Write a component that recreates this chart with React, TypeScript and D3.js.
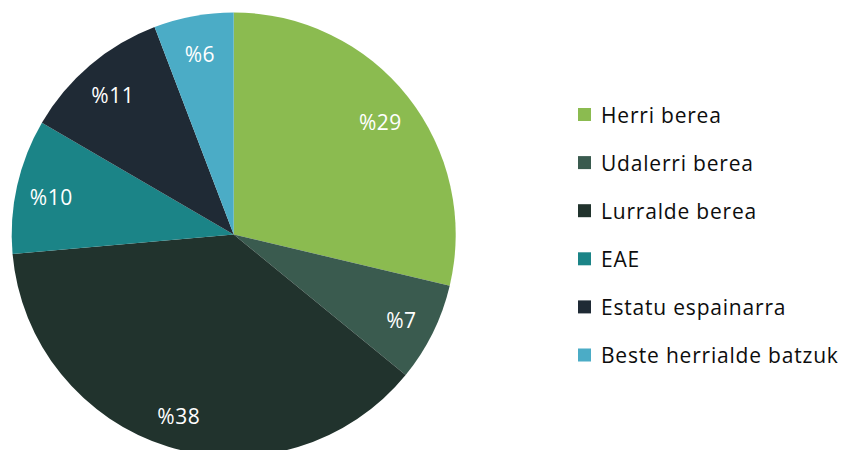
import React from "react";
import * as d3 from "d3";

const categories = [
  "Herri berea",
  "Udalerri berea",
  "Lurralde berea",
  "EAE",
  "Estatu espainarra",
  "Beste herrialde batzuk",
];
const shares = [28.7, 7.2, 37.7, 9.8, 10.8, 5.8];
const sliceLabels = ["%29", "%7", "%38", "%10", "%11", "%6"];
const colors = ["#8bbb50", "#3a5b4f", "#21332d", "#1b8487", "#1f2a35", "#4bacc6"];

const W = 843;
const H = 450;
const cx = 233.7;
const cy = 234.5;
const radius = 222;
const font = "'Open Sans', 'DejaVu Sans', sans-serif";

const App: React.FC = () => {
  const pie = d3
    .pie<number>()
    .sort(null)
    .value((d) => d);
  const arcs = pie(shares);
  const arc = d3.arc<d3.PieArcDatum<number>>().innerRadius(0).outerRadius(radius);
  const labelArc = d3
    .arc<d3.PieArcDatum<number>>()
    .innerRadius(187)
    .outerRadius(187);

  const legendY = d3
    .scalePoint<string>()
    .domain(categories)
    .range([114.5, 355]);

  return (
    <svg
      width={W}
      height={H}
      style={{ position: "absolute", left: 0, top: 0, background: "#fff" }}
    >
      <g transform={`translate(${cx},${cy})`}>
        {arcs.map((a, i) => (
          <path key={i} d={arc(a) || ""} fill={colors[i]} />
        ))}
        {arcs.map((a, i) => {
          const [lx, ly] = labelArc.centroid(a);
          return (
            <text
              key={"l" + i}
              x={lx}
              y={ly + 3}
              fill="#fff"
              fontFamily={font}
              fontSize={21}
              letterSpacing={0.5}
              textAnchor="middle"
              dominantBaseline="central"
            >
              {sliceLabels[i]}
            </text>
          );
        })}
      </g>
      <g>
        {categories.map((c, i) => (
          <g key={c} transform={`translate(578,${legendY(c)})`}>
            <rect x={0} y={-6.5} width={13} height={13} fill={colors[i]} />
            <text
              x={23}
              y={0}
              fill="#0d0d0d"
              fontFamily={font}
              fontSize={21}
              letterSpacing={0.8}
              dominantBaseline="central"
            >
              {c}
            </text>
          </g>
        ))}
      </g>
    </svg>
  );
};

export default App;
